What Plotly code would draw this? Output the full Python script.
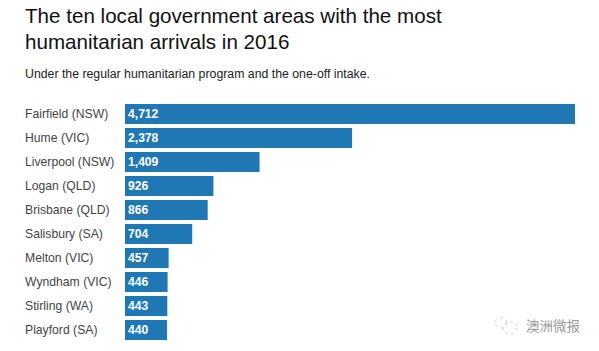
import plotly.graph_objects as go

title_lines = ["The ten local government areas with the most", "humanitarian arrivals in 2016"]
subtitle = "Under the regular humanitarian program and the one-off intake."
categories = ["Fairfield (NSW)", "Hume (VIC)", "Liverpool (NSW)", "Logan (QLD)", "Brisbane (QLD)",
              "Salisbury (SA)", "Melton (VIC)", "Wyndham (VIC)", "Stirling (WA)", "Playford (SA)"]
values = [4712, 2378, 1409, 926, 866, 704, 457, 446, 443, 440]
watermark = "澳洲微报"

W, H = 599, 351
L, R, T, B = 125, 24, 102, 9
FONT = "Liberation Sans, Arial, sans-serif"

def paper_y(px):
    return (H - B - px) / (H - T - B)
def paper_x(px):
    return (px - L) / (W - L - R)

fig = go.Figure(go.Bar(
    x=values, y=categories, orientation="h",
    marker=dict(color="#1f77b4", line=dict(width=0)),
    text=[f"{v:,}" for v in values],
    textposition="inside", insidetextanchor="start", textangle=0, cliponaxis=False,
    insidetextfont=dict(family=FONT, size=13, color="#ffffff", weight="bold"),
    hoverinfo="skip",
))

annotations = []
for t, ypx in zip(title_lines, (15.5, 41)):
    annotations.append(dict(text=t, xref="paper", yref="paper", x=paper_x(23), y=paper_y(ypx),
                            xanchor="left", yanchor="middle", showarrow=False,
                            font=dict(family=FONT, size=20.6, color="#111111")))
annotations.append(dict(text=subtitle, xref="paper", yref="paper", x=paper_x(23), y=paper_y(74),
                        xanchor="left", yanchor="middle", showarrow=False,
                        font=dict(family=FONT, size=12.3, color="#222222")))
for c in categories:
    annotations.append(dict(text=c, xref="paper", yref="y", x=paper_x(23), y=c,
                            xanchor="left", yanchor="middle", showarrow=False,
                            font=dict(family=FONT, size=12.2, color="#444444")))
annotations.append(dict(text=watermark, xref="paper", yref="paper", x=paper_x(582), y=paper_y(325),
                        xanchor="right", yanchor="middle", showarrow=False,
                        font=dict(family="Noto Sans CJK SC", size=13.5, color="#9a9a9a")))

fig.update_layout(
    width=W, height=H, margin=dict(l=L, r=R, t=T, b=B, pad=0),
    paper_bgcolor="#ffffff", plot_bgcolor="#ffffff", showlegend=False,
    bargap=4/24, annotations=annotations,
    xaxis=dict(range=[0, 4712], visible=False, fixedrange=True),
    yaxis=dict(autorange="reversed", visible=False, fixedrange=True, type="category",
               categoryorder="array", categoryarray=categories),
    shapes=[
        dict(type="circle", xref="paper", yref="paper", x0=paper_x(495), x1=paper_x(507),
             y0=paper_y(328), y1=paper_y(318), line=dict(color="#cfcfcf", width=1, dash="dot")),
        dict(type="circle", xref="paper", yref="paper", x0=paper_x(503), x1=paper_x(517),
             y0=paper_y(334), y1=paper_y(322), line=dict(color="#cfcfcf", width=1, dash="dot")),
    ],
)
fig.write_html("out.html", config=dict(displayModeBar=False),
               post_script="document.body.style.margin='0';document.documentElement.style.overflow='hidden';")
